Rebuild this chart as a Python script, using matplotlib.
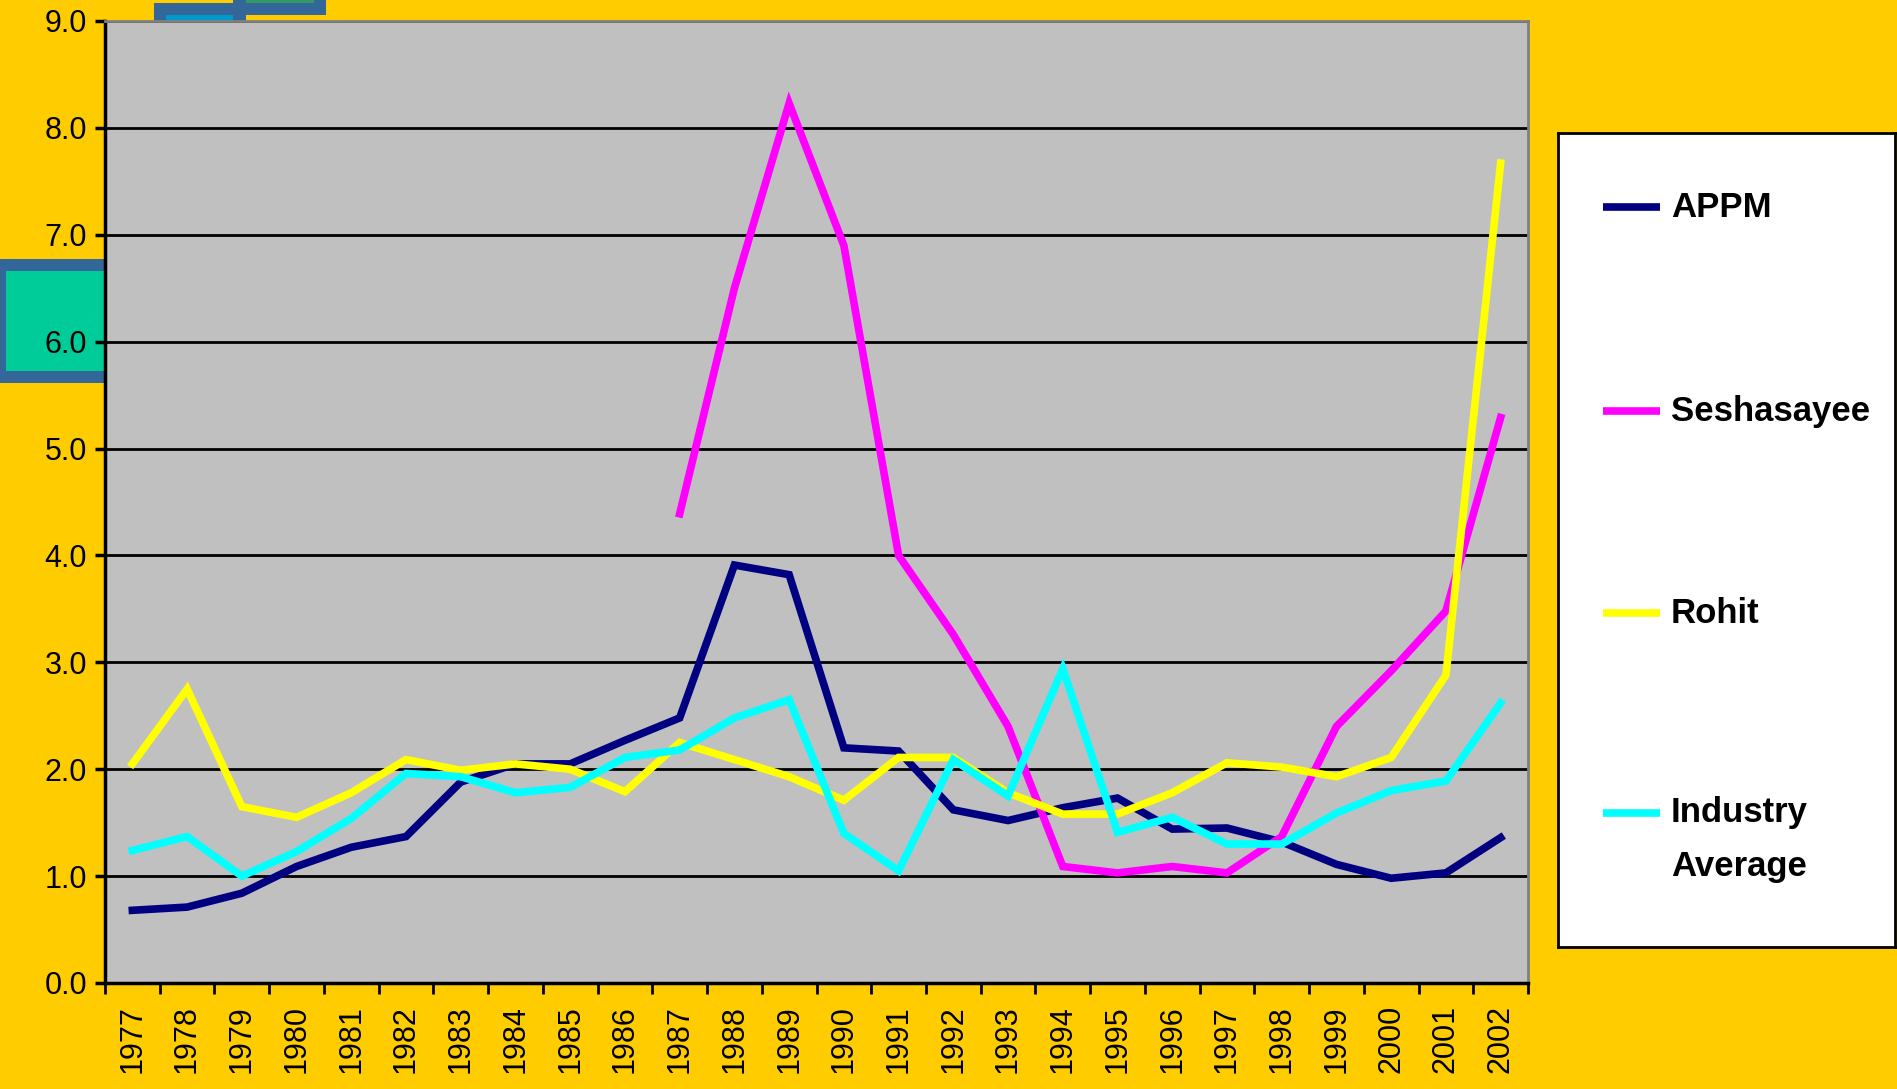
import matplotlib.pyplot as plt
import matplotlib.patches as mpatches
import numpy as np

years = [str(y) for y in range(1977, 2003)]

appm = [0.68, 0.71, 0.84, 1.09, 1.27, 1.37, 1.88, 2.05, 2.05, 2.27, 2.48, 3.91, 3.82,
        2.20, 2.17, 1.62, 1.52, 1.64, 1.73, 1.44, 1.45, 1.32, 1.11, 0.98, 1.03, 1.36]
seshasayee = [np.nan] * 10 + [4.39, 6.50, 8.23, 6.90, 4.00, 3.26, 2.40, 1.09, 1.03, 1.09,
                              1.03, 1.37, 2.40, 2.92, 3.48, 5.29]
rohit = [2.05, 2.75, 1.65, 1.55, 1.78, 2.09, 1.99, 2.05, 2.00, 1.79, 2.25, 2.09, 1.93,
         1.71, 2.11, 2.11, 1.78, 1.58, 1.58, 1.78, 2.06, 2.02, 1.93, 2.11, 2.88, 7.67]
industry = [1.24, 1.37, 1.00, 1.23, 1.54, 1.96, 1.93, 1.78, 1.83, 2.11, 2.18, 2.48, 2.65,
            1.40, 1.05, 2.09, 1.75, 2.94, 1.41, 1.55, 1.30, 1.30, 1.59, 1.80, 1.89, 2.62]

series = [('APPM', appm, '#000080'),
          ('Seshasayee', seshasayee, '#FF00FF'),
          ('Rohit', rohit, '#FFFF00'),
          ('Industry\nAverage', industry, '#00FFFF')]

W, H = 1897, 1089
plt.rcParams['font.family'] = ['Liberation Sans', 'DejaVu Sans']
fig = plt.figure(figsize=(W / 100, H / 100), dpi=100, facecolor='#FFCC00')


def px_rect(x, y, w, h, color):
    # rectangle in pixel coords with top-left origin
    return mpatches.Rectangle((x / W, 1 - (y + h) / H), w / W, h / H,
                              transform=fig.transFigure, facecolor=color,
                              edgecolor='none', zorder=-1)


# decorative slide boxes peeking out behind the chart
for x, y, w, h, c in [(154, 3, 92, 30, '#336699'), (166, 15, 67, 20, '#0099CC'),
                      (233, -10, 93, 25, '#336699'), (246, -10, 68, 13, '#339966'),
                      (-6, 259, 130, 124, '#336699'), (6, 271, 120, 100, '#00CC99')]:
    fig.add_artist(px_rect(x, y, w, h, c))

ax = fig.add_axes([105 / W, 1 - 983 / H, (1528 - 105) / W, (983 - 21) / H])
ax.set_facecolor('#C0C0C0')
x = np.arange(len(years))
for name, vals, col in series:
    ax.plot(x, vals, color=col, lw=5.5, solid_joinstyle='miter', zorder=3)

ax.set_xlim(-0.5, len(years) - 0.5)
ax.set_ylim(0, 9)
ax.set_yticks(np.arange(0, 10))
ax.set_yticklabels(['%.1f' % v for v in range(10)], fontsize=22)
ax.yaxis.grid(True, color='black', lw=2)
ax.set_axisbelow(True)

ax.set_xticks(np.arange(-0.5, len(years), 1))
ax.set_xticklabels([])
ax.set_xticks(x, minor=True)
ax.set_xticklabels(years, minor=True, rotation=90, fontsize=22)
ax.tick_params(axis='x', which='major', length=8, width=2)
ax.tick_params(axis='x', which='minor', length=0, pad=16)
ax.tick_params(axis='y', length=7, width=2.5, pad=6)

for s in ['top', 'right']:
    ax.spines[s].set_color('#808080')
    ax.spines[s].set_linewidth(2)
for s in ['left', 'bottom']:
    ax.spines[s].set_color('black')
    ax.spines[s].set_linewidth(2.5)

# legend box
lg = fig.add_axes([1558 / W, 1 - 947 / H, (1895 - 1558) / W, (947 - 133) / H])
lg.set_xlim(0, 1)
lg.set_ylim(0, 1)
lg.set_xticks([])
lg.set_yticks([])
lg.set_facecolor('white')
for s in lg.spines.values():
    s.set_linewidth(2)
    s.set_color('black')
leg_y = [0.909, 0.658, 0.410, 0.165]
for (name, vals, col), yy in zip(series, leg_y):
    lg.plot([0.134, 0.303], [yy, yy], color=col, lw=5.5, solid_capstyle='butt')
    if '\n' in name:
        lg.text(0.335, yy + 0.02, name, fontsize=25, fontweight='bold',
                va='top', ha='left', linespacing=1.8)
    else:
        lg.text(0.335, yy, name, fontsize=25, fontweight='bold',
                va='center', ha='left')

fig.savefig('out.png', dpi=100, facecolor=fig.get_facecolor())
